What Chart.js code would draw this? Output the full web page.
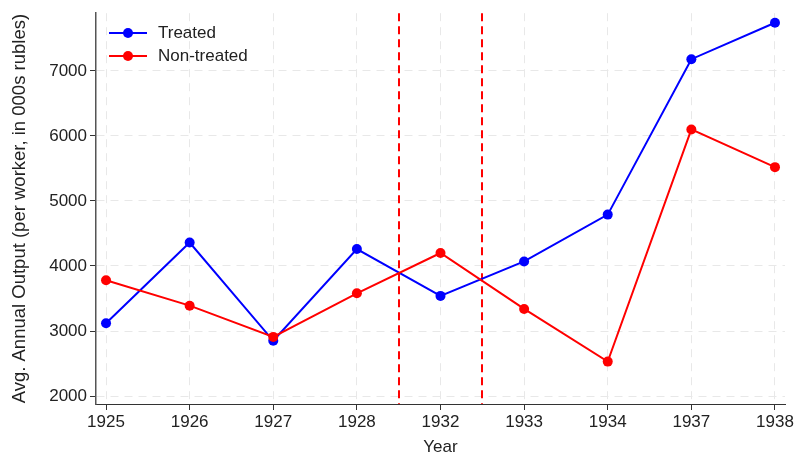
<!DOCTYPE html>
<html>
<head>
<meta charset="utf-8">
<script src="https://cdn.jsdelivr.net/npm/chart.js@4/dist/chart.umd.min.js"></script>
<style>
  html, body { margin: 0; padding: 0; background: #fff; }
  #wrap { position: relative; width: 797px; height: 455px; }
  #legend { position: absolute; left: 109px; top: 21px; font-family: 'Liberation Sans', Arial, sans-serif; font-size: 17px; color: #222; }
  .item { display: flex; align-items: center; height: 23px; }
  .sample { position: relative; width: 38px; height: 10px; margin-right: 11px; }
  .sample .ln { position: absolute; left: 0; right: 0; top: 4px; height: 2px; }
  .sample .dt { position: absolute; left: 14px; top: 0; width: 10px; height: 10px; border-radius: 50%; }
</style>
</head>
<body>
<div id="wrap">
  <canvas id="c" width="797" height="455"></canvas>
  <div id="legend"></div>
</div>
<script>
const years = ['1925', '1926', '1927', '1928', '1932', '1933', '1934', '1937', '1938'];
const treated = [3120, 4360, 2850, 4260, 3540, 4070, 4790, 7180, 7740];
const nonTreated = [3780, 3390, 2910, 3580, 4200, 3340, 2530, 6100, 5520];
const yTicks = [2000, 3000, 4000, 5000, 6000, 7000];
const breakPositions = [3.5, 4.5]; // between 1928/1932 and 1932/1933
const seriesNames = ['Treated', 'Non-treated'];
const seriesColors = ['#0000ff', '#ff0000'];

const FONT = "'Liberation Sans', Arial, sans-serif";
const toXY = arr => arr.map((v, i) => ({ x: i, y: v }));

const breakLines = {
  id: 'breakLines',
  beforeDatasetsDraw(chart) {
    const { ctx, chartArea, scales } = chart;
    ctx.save();
    ctx.strokeStyle = '#ff0000';
    ctx.lineWidth = 2;
    ctx.setLineDash([8, 5]);
    breakPositions.forEach(p => {
      const x = Math.round(scales.x.getPixelForValue(p));
      ctx.beginPath();
      ctx.moveTo(x, chartArea.top);
      ctx.lineTo(x, chartArea.bottom);
      ctx.stroke();
    });
    ctx.restore();
  }
};

const gridOpts = { color: '#e8e8e8', lineWidth: 1, tickLength: 6, tickColor: '#333', tickBorderDash: [], tickWidth: 1 };

new Chart(document.getElementById('c'), {
  type: 'line',
  data: {
    datasets: [
      { label: seriesNames[0], data: toXY(treated), borderColor: seriesColors[0], backgroundColor: seriesColors[0],
        borderWidth: 2, pointRadius: 5, pointBorderWidth: 0, order: 1 },
      { label: seriesNames[1], data: toXY(nonTreated), borderColor: seriesColors[1], backgroundColor: seriesColors[1],
        borderWidth: 2, pointRadius: 5, pointBorderWidth: 0, order: 0 }
    ]
  },
  options: {
    responsive: false,
    animation: false,
    layout: { padding: { left: 5, right: 12, top: 11, bottom: 0 } },
    plugins: { legend: { display: false }, tooltip: { enabled: false } },
    scales: {
      x: {
        type: 'linear',
        min: -0.12, max: 8.12,
        afterBuildTicks: s => { s.ticks = years.map((_, i) => ({ value: i })); },
        afterFit: s => { s.height = 51; },
        ticks: { includeBounds: false, autoSkip: false, maxRotation: 0, padding: 2,
                 color: '#222', font: { family: FONT, size: 17 },
                 callback: v => years[v] },
        grid: gridOpts,
        border: { display: true, color: '#333', width: 1, dash: [8, 6] },
        title: { display: true, text: 'Year', color: '#222', font: { family: FONT, size: 17 }, padding: { top: 0, bottom: -3 } }
      },
      y: {
        min: 1878, max: 7887,
        afterBuildTicks: s => { s.ticks = yTicks.map(v => ({ value: v })); },
        afterFit: s => { s.width = 91; },
        ticks: { includeBounds: false, padding: 3, color: '#222', font: { family: FONT, size: 17 },
                 callback: v => String(v) },
        grid: gridOpts,
        border: { display: true, color: '#555', width: 1.5, dash: [8, 6] },
        title: { display: true, text: 'Avg. Annual Output (per worker, in 000s rubles)', color: '#222',
                 font: { family: FONT, size: 18.5 }, padding: { bottom: 2 } }
      }
    }
  },
  plugins: [breakLines]
});

const legend = document.getElementById('legend');
seriesNames.forEach((name, i) => {
  const it = document.createElement('div');
  it.className = 'item';
  it.innerHTML = '<span class="sample"><span class="ln" style="background:' + seriesColors[i] + '"></span>' +
    '<span class="dt" style="background:' + seriesColors[i] + '"></span></span><span>' + name + '</span>';
  legend.appendChild(it);
});
</script>
</body>
</html>
